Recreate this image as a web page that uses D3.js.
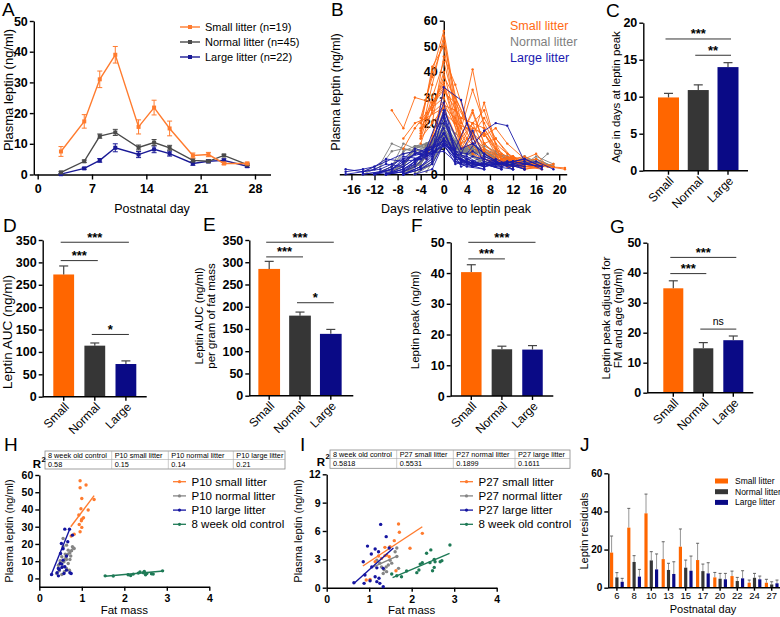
<!DOCTYPE html>
<html><head><meta charset="utf-8">
<script src="https://cdn.jsdelivr.net/npm/d3@7"></script>
<style>body{margin:0;background:#fff}svg{display:block}</style>
</head><body><svg id="c" width="780" height="617"></svg>
<script>
// ---------------- DATA ----------------
const days = [3,6,8,10,13,15,17,20,22,24,27];
const aLegend = ["Small litter (n=19)","Normal litter (n=45)","Large litter (n=22)"];
const aSmall = [7.5,17.3,31,39,15.5,21.8,15,6.2,6.5,3.6,3.6];
const aSmallErr = [1.6,2.2,2.7,2.7,2.3,2.4,2.4,0.8,0.7,0.4,0.4];
const aNormal = [0.7,4.3,12.5,13.7,8.8,10.4,8.7,4.6,4.3,6.2,3.2];
const aNormalErr = [0.3,0.4,0.7,1.0,0.8,1.0,0.8,0.5,0.4,0.4,0.3];
const aLarge = [0.1,2.0,4.6,8.7,6.5,8.2,6.8,3.6,4.3,4.6,2.7];
const aLargeErr = [0.2,0.3,0.6,1.3,1.0,1.1,0.8,0.6,0.5,0.5,0.4];

// Panel B: individual animals (peak postnatal day + leptin at each sampling day)
const bLegend = ["Small litter","Normal litter","Large litter"];
const bSmallPeak = [10,10,10,10,8,10,10,8,10,13,10,6,10,15,10,8,10,13,6];
const bSmallVals = [
[null,20,40,56,15,25,12,5,6,3,3],[null,15,35,54,12,20,10,6,7,3,4],[null,22,38,52,20,41,18,7,6,4,3],
[null,18,42,50,10,18,16,4,5,2,3],[null,20,46,35,14,28,12,6,7,3,4],[null,16,30,44,18,33,20,8,6,3,3],
[null,12,25,40,12,15,10,5,7,3,2],[null,25,38,30,16,22,14,6,6,4,3],[null,14,28,35,10,12,16,6,5,3,4],
[null,10,18,24,34,30,20,8,6,3,3],[null,18,27,33,22,20,25,5,5,3,4],[6,32,28,20,15,18,12,6,8,3,2],
[null,20,26,30,15,24,12,6,7,4,3],[null,25,18,30,28,36,20,8,6,4,3],[null,17,24,28,14,20,18,6,6,3,4],
[null,15,27,25,12,16,10,5,6,3,3],[null,14,20,26,10,14,9,4,6,2,3],[null,14,20,22,26,22,14,6,5,3,4],
[9,24,20,18,12,14,8,5,6,3,2.5]];
const bNormalPeak = [10,10,8,13,10,15,10,8,10,13,17,10,10,6,8,15,10,13,10,10,8,13,10,15,10,8,10,13,10,17];
const bNormalVals = [
[1,5,13,25,9,10,9,5,4,6,3],[0,4,12,22,8,11,9,4,4,5,4],[1,6,20,16,9,12,8,5,4,6,3],[1,3,10,12,18,10,9,5,4,7,3],
[1,4,14,20,10,12,9,5,3,6,4],[0,3,12,10,12,17,9,4,4,6,3],[1,5,12,18,8,9,8,4,5,5,3],[0,4,15,12,7,10,8,5,4,6,3],
[1,4,11,16,9,10,7,5,4,7,4],[0,3,9,11,15,9,8,4,3,5,3],[1,4,12,10,9,11,14,5,4,6,3],[0,5,13,15,8,9,8,5,4,6,4],
[1,4,12,14,9,11,9,4,3,5,3],[1,12,11,10,7,8,7,4,4,8,null],[0,4,13,12,8,9,8,5,4,5,3],[0,3,9,11,10,14,9,4,4,6,3],
[1,5,12,18,9,10,9,5,4,6,4],[0,4,10,12,16,11,8,5,4,6,3],[1,4,13,17,8,12,8,4,4,5,3],[0,5,11,13,9,10,8,5,5,6,3],
[1,5,14,13,8,11,9,5,4,7,4],[0,3,11,12,13,10,9,4,3,6,3],[1,4,12,15,10,11,8,5,4,6,3],[0,3,8,9,11,13,8,5,4,5,3],
[1,4,10,14,7,9,8,4,4,6,3],[0,5,12,11,8,9,7,5,4,5,3],[1,4,13,16,9,11,9,5,4,6,4],[0,4,11,12,14,10,9,4,4,5,3],
[1,5,12,19,9,10,8,5,4,7,3],[0,3,9,10,8,10,12,5,4,6,3]];
const bLargePeak = [10,13,13,15,20,10,13,17,10,15,13,8,20,15,17,13,10,13,15,17,10,20];
const bLargeVals = [
[0,3,8,34,29,12,8,4,5,4,3],[0,1,4,10,28,8,6,3,4,5,2],[0,2,5,8,24,10,20,4,6,4,3],[0,1,3,6,10,22,8,3,4,5,2],
[2,1,3,5,8,9,6,18,5,4,2],[0,2,5,20,8,17,7,4,5,6,3],[0,2,4,9,16,8,7,3,4,5,3],[0,1,2,5,6,8,14,3,5,4,2],
[0,3,6,14,6,9,6,3,4,5,2],[0,2,4,8,7,16,7,3,5,4,3],[0,1,5,10,13,7,5,4,4,4,2],[0,2,12,9,5,7,5,3,4,5,2],
[1,2,3,6,5,8,10,12,4,5,3],[0,2,6,10,8,12,7,3,4,3,2],[0,1,3,7,6,9,11,4,3,4,2],[0,2,5,9,23,9,8,17,20,19,5],
[0,2,4,12,5,7,6,4,5,4,3],[0,1,3,7,11,6,5,3,4,4,2],[0,2,5,8,10,13,7,4,3,5,2],[1,2,4,6,8,10,16,5,4,4,3],
[0,3,7,25,10,12,8,4,5,6,3],[0,1,2,4,3,6,8,9,5,3,2]];

// Bar panels C-G
const groups = ["Small","Normal","Large"];
const cMean = [9.9,10.9,14.0], cErr = [0.55,0.7,0.6];
const dMean = [273,114,73], dErr = [19,6,7];
const eMean = [285,180,139], eErr = [17,8,10];
const fMean = [40.3,15.2,15.1], fErr = [2.4,1.0,1.3];
const gMean = [34.8,14.8,17.5], gErr = [2.5,1.9,1.4];
const cSig = [[0,2,17.8,"***"],[1,2,15.6,"**"]];
const dSig = [[0,2,345,"***"],[0,1,304,"***"],[1,2,139,"*"]];
const eSig = [[0,2,345,"***"],[0,1,312,"***"],[1,2,209,"*"]];
const fSig = [[0,2,50,"***"],[0,1,44.6,"***"]];
const gSig = [[0,2,45.1,"***"],[0,1,39.7,"***"],[1,2,21.2,"ns"]];

// Panel H (P10) scatter
const hLegend = ["P10 small litter","P10 normal litter","P10 large litter","8 week old control"];
const hTableHead = ["8 week old control","P10 small litter","P10 normal litter","P10 large litter"];
const hTableVal = ["0.58","0.15","0.14","0.21"];
const hSmall = [[0.96,56.7],[1.10,54.2],[0.96,52.6],[1.0,46.4],[1.29,45.8],[0.98,40.4],[1.15,39.7],[0.93,36.8],[1.04,35.2],[1.0,34.4],[0.99,33.5],[0.94,31.3],[1.0,29.6],[0.96,27.1],[0.75,24.6],[0.82,25.7]];
const hNormal = [[0.56,23.2],[0.64,19.3],[0.78,18.4],[0.68,16.4],[0.72,14.9],[0.61,14.1],[0.53,12.6],[0.76,16.1],[0.64,11],[0.72,11],[0.49,10.3],[0.58,9.7],[0.68,8.7],[0.45,7.7],[0.55,6.8],[0.64,5.8],[0.47,4.4],[0.59,3.9],[0.71,4.8],[0.41,2.9],[0.53,2.3],[0.63,12.6],[0.74,13],[0.82,17.4],[0.56,18.4],[0.67,14.1]];
const hLarge = [[0.29,2.3],[0.42,3.3],[0.45,1.5],[0.49,8.7],[0.5,14.5],[0.52,20.3],[0.56,17.2],[0.6,28.6],[0.71,28.6],[0.67,21.3],[0.78,25.1],[0.56,10.6],[0.53,6.4],[0.47,5.2],[0.58,2.9],[0.64,4.8],[0.72,3.3],[0.75,2.9],[0.6,6.8],[0.53,8.3],[0.45,5.8],[0.64,13]];
const hCtrl = [[1.55,1.5],[1.74,1.4],[2.09,2.1],[2.15,1.7],[2.21,2.5],[2.33,3.1],[2.37,3.7],[2.45,3.3],[2.47,4.1],[2.5,2.1],[2.53,2.9],[2.64,2.7],[2.68,2.5],[2.9,4.4]];
const hFitSmall = [[0.74,30],[1.29,48]], hFitNormal = [[0.42,6],[0.82,18.5]], hFitLarge = [[0.27,1.5],[0.72,28.8]], hFitCtrl = [[1.55,1.3],[2.92,4.3]];

// Panel I (P27) scatter
const iLegend = ["P27 small litter","P27 normal litter","P27 large litter","8 week old control"];
const iTableHead = ["8 week old control","P27 small litter","P27 normal litter","P27 large litter"];
const iTableVal = ["0.5818","0.5531","0.1899","0.1611"];
const iSmall = [[1.69,6.74],[1.71,5.86],[2.25,5.75],[1.59,4.98],[1.96,4.17],[1.37,4.27],[1.49,4.34],[1.41,3.46],[1.37,3.39],[1.22,3.35],[1.14,2.75],[1.63,1.8],[1.02,0.88],[0.93,0.81],[1.29,3.1],[1.47,3.28]];
const iNormal = [[1.65,4.2],[1.61,3.8],[1.65,3.3],[1.45,2.4],[1.4,2.2],[1.33,1.5],[1.35,1.9],[1.41,1.7],[1.69,2.05],[1.18,2.9],[1.25,2.6],[1.53,2.6],[1.49,2.9],[1.29,2.2]];
const iLarge = [[1.27,6.7],[1.4,5.4],[0.96,4.4],[1.14,4.1],[1.47,4.2],[1.05,3.56],[1.22,3.8],[0.86,2.75],[1.06,2.2],[1.18,2.1],[1.33,2.05],[0.9,1.34],[1.14,1.16],[0.64,0.53],[0.88,0.46],[1.18,0.64],[1.25,0.46],[1.02,0.74],[1.33,0.1],[1.23,1.0]];
const iCtrl = [[1.53,1.45],[1.65,1.27],[1.76,1.16],[1.88,1.76],[2.12,1.59],[2.17,1.87],[2.2,2.5],[2.25,2.65],[2.35,3.64],[2.43,2.65],[2.45,4.0],[2.49,1.8],[2.53,2.15],[2.55,2.75],[2.67,2.75],[2.71,2.86],[2.9,4.52],[2.53,3.0]];
const iFitSmall = [[0.85,2.3],[2.25,6.45]], iFitNormal = [[1.1,2.2],[1.68,3.4]], iFitLarge = [[0.64,0.45],[1.57,4.2]], iFitCtrl = [[1.55,1.06],[2.89,3.64]];

// Panel J residuals
const jDays = ["6","8","10","13","15","17","20","22","24","27"];
const jLegend = ["Small litter","Normal litter","Large litter"];
const jSmall = [18.4,31.5,39,15,21.5,14.5,5.4,6.1,2.6,2.6];
const jSmallErr = [8.7,10.1,10.1,9.1,9.3,8.8,2.6,2.6,1.4,1.8];
const jNormal = [5.4,13.5,14.3,9.3,10.5,8.7,4.7,3.5,5.2,1.7];
const jNormalErr = [2.5,3.3,4.6,3.5,4.0,3.7,2.8,1.9,2.3,1.4];
const jLarge = [3.1,5.8,9.6,7.2,8.9,7.5,4.4,4.9,4.4,2.3];
const jLargeErr = [1.8,3.8,8.1,6.4,7.7,5.6,3.1,4.0,1.7,1.7];

// ---------------- HELPERS ----------------
const svg = d3.select("#c");
const F = "'Liberation Sans', Arial, Helvetica, sans-serif";
const OR = "#ff6a13", OR_BAR = "#ff6600", GR_BAR = "#363636", NV_BAR = "#0a0a86";
const OR_L = "#ff7b2e", GR_L = "#808080", BL_L = "#1a1aa0", GN = "#1e7a56";

function txt(x, y, s, o = {}) {
  const t = svg.append("text").attr("x", x).attr("y", y).text(s)
    .attr("font-family", F).attr("font-size", o.fs || 12).attr("fill", o.fill || "#000")
    .attr("font-weight", o.fw || "normal").attr("text-anchor", o.anchor || "start");
  if (o.rot) t.attr("transform", `rotate(${o.rot},${x},${y})`);
  return t;
}
function vtxt(x, y, s, fs) { return txt(x, y, s, {fs, anchor: "middle", rot: -90}); }
function styleAx(g, fs, bold) {
  g.select(".domain").attr("stroke", "#000").attr("stroke-width", 1.4);
  g.selectAll(".tick line").attr("stroke", "#000").attr("stroke-width", 1.4);
  g.selectAll(".tick text").attr("font-family", F).attr("font-size", fs)
    .attr("font-weight", bold ? "bold" : "normal").attr("fill", "#000");
}
function yAxis(scale, x, ticks, fs, o = {}) {
  const g = svg.append("g").attr("transform", `translate(${x},0)`)
    .call(d3.axisLeft(scale).tickValues(ticks).tickSize(o.ts || 4).tickPadding(o.tp || 2)
      .tickSizeOuter(0).tickFormat(d => String(d)));
  styleAx(g, fs, o.bold !== false);
  return g;
}
function xAxis(scale, y, ticks, fs, o = {}) {
  const ax = d3.axisBottom(scale).tickSize(o.ts || 4).tickPadding(o.tp || 3).tickSizeOuter(0)
    .tickFormat(o.fmt || (d => String(d)));
  if (ticks) ax.tickValues(ticks);
  const g = svg.append("g").attr("transform", `translate(0,${y})`).call(ax);
  styleAx(g, fs, o.bold !== false);
  return g;
}
function title(x, y, s) { txt(x, y, s, {fs: 19}); }
const lineGen = (x, y) => d3.line().x(d => x(d[0])).y(d => y(d[1]));

// ---------------- PANEL A ----------------
{
  const x = d3.scaleLinear([-0.5, 30], [33.8, 270.5]);
  const y = d3.scaleLinear([0, 50], [174.5, 21]);
  xAxis(x, 174.5, [0, 7, 14, 21, 28], 12.5, {ts: 5, tp: 5});
  yAxis(y, 33.8, d3.range(0, 51, 10), 12.5);
  const series = [[aLarge, aLargeErr, "#1a1a96"], [aNormal, aNormalErr, "#4a4a4a"], [aSmall, aSmallErr, OR_L]];
  series.forEach(([m, e, c]) => {
    const pts = days.map((d, i) => [d, m[i], e[i]]);
    svg.append("path").datum(pts).attr("d", lineGen(x, y)).attr("fill", "none").attr("stroke", c).attr("stroke-width", 1.4);
    const g = svg.append("g").attr("stroke", c).attr("stroke-width", 1);
    pts.forEach(p => {
      g.append("line").attr("x1", x(p[0])).attr("x2", x(p[0])).attr("y1", y(p[1] - p[2])).attr("y2", y(p[1] + p[2]));
      [p[1] - p[2], p[1] + p[2]].forEach(v => g.append("line").attr("x1", x(p[0]) - 2.5).attr("x2", x(p[0]) + 2.5).attr("y1", y(v)).attr("y2", y(v)));
    });
    svg.append("g").selectAll("rect").data(pts).join("rect")
      .attr("x", p => x(p[0]) - 2).attr("y", p => y(p[1]) - 2).attr("width", 4).attr("height", 4).attr("fill", c);
  });
  const lc = [OR_L, "#4a4a4a", "#1a1a96"];
  aLegend.forEach((s, i) => {
    const yy = 27 + i * 15;
    svg.append("line").attr("x1", 180).attr("x2", 200).attr("y1", yy).attr("y2", yy).attr("stroke", lc[i]).attr("stroke-width", 1.4);
    svg.append("rect").attr("x", 188).attr("y", yy - 2).attr("width", 4).attr("height", 4).attr("fill", lc[i]);
    txt(205, yy + 4, s, {fs: 11});
  });
  vtxt(13, 90, "Plasma leptin (ng/ml)", 13);
  txt(152, 213, "Postnatal day", {fs: 12.5, anchor: "middle"});
  title(2, 16, "A");
}

// ---------------- PANEL B ----------------
{
  const x = d3.scaleLinear([-18.1, 21.3], [339.3, 566.7]);
  const y = d3.scaleLinear([0, 60], [174.3, 20.7]);
  xAxis(x, 174.3, d3.range(-16, 21, 4), 12.5, {ts: 6, tp: 5});
  yAxis(y, x(0), d3.range(0, 61, 10), 12.5);
  const groupsB = [[bNormalPeak, bNormalVals, GR_L], [bSmallPeak, bSmallVals, OR], [bLargePeak, bLargeVals, "#1c1ca8"]];
  groupsB.forEach(([pk, vals, c]) => {
    vals.forEach((v, k) => {
      const pts = days.map((d, i) => [d - pk[k], v[i]]).filter(p => p[1] != null);
      svg.append("path").datum(pts).attr("d", lineGen(x, y)).attr("fill", "none").attr("stroke", c).attr("stroke-width", 0.9);
      svg.append("g").selectAll("circle").data(pts).join("circle")
        .attr("cx", p => x(p[0])).attr("cy", p => y(p[1])).attr("r", 1.2).attr("fill", c);
    });
  });
  const cols = [OR, "#7f7f7f", "#1a1ab0"];
  bLegend.forEach((s, i) => txt(510, 30 + i * 16, s, {fs: 12.5, fill: cols[i]}));
  vtxt(340, 92, "Plasma leptin (ng/ml)", 12.5);
  txt(456, 213, "Days relative to leptin peak", {fs: 12.5, anchor: "middle"});
  title(331, 16, "B");
}

// ---------------- BAR PANELS C-G ----------------
function barPanel(p) {
  const y = d3.scaleLinear([0, p.max], [p.y0, p.y1]);
  const pi = 1 - p.w / p.s;
  const x = d3.scaleBand(groups, [p.c1 - p.s / 2, p.c1 + 2.5 * p.s]).paddingInner(pi).paddingOuter(pi / 2);
  const cols = [OR_BAR, GR_BAR, NV_BAR];
  svg.append("g").selectAll("rect").data(groups).join("rect")
    .attr("x", d => x(d)).attr("width", x.bandwidth())
    .attr("y", (d, i) => y(p.mean[i])).attr("height", (d, i) => p.y0 - y(p.mean[i]))
    .attr("fill", (d, i) => cols[i]);
  const eg = svg.append("g").attr("stroke", "#444").attr("stroke-width", 1.2);
  groups.forEach((g, i) => {
    const cx = x(g) + x.bandwidth() / 2;
    eg.append("line").attr("x1", cx).attr("x2", cx).attr("y1", y(p.mean[i])).attr("y2", y(p.mean[i] + p.err[i]));
    eg.append("line").attr("x1", cx - 4.5).attr("x2", cx + 4.5).attr("y1", y(p.mean[i] + p.err[i])).attr("y2", y(p.mean[i] + p.err[i]));
  });
  yAxis(y, p.ax, d3.range(0, p.max + 0.001, p.step), 12.5);
  const xa = svg.append("g").attr("transform", `translate(0,${p.y0})`)
    .call(d3.axisBottom(x).tickSize(4).tickSizeOuter(0).tickFormat(""));
  xa.select(".domain").attr("d", `M${p.ax},0H${p.axEnd}`);
  styleAx(xa, 12, false);
  groups.forEach(g => {
    const cx = x(g) + x.bandwidth() / 2;
    txt(cx + 3, p.y0 + 8, g, {fs: 12, anchor: "end", rot: -45}).attr("dy", "0.35em");
  });
  const sg = svg.append("g");
  p.sig.forEach(([a, b, v, lab]) => {
    const x1 = x(groups[a]) + x.bandwidth() / 2 - 3, x2 = x(groups[b]) + x.bandwidth() / 2 + 3;
    sg.append("line").attr("x1", x1).attr("x2", x2).attr("y1", y(v)).attr("y2", y(v)).attr("stroke", "#333").attr("stroke-width", 1);
    if (lab === "ns") txt((x1 + x2) / 2, y(v) - 4, lab, {fs: 10.5, anchor: "middle"});
    else txt((x1 + x2) / 2, y(v) - 0.5, lab, {fs: 13, anchor: "middle", fw: "bold"});
  });
  p.label.forEach((s, i) => vtxt(p.lx[i], p.ly, s, p.lfs));
  title(p.tx, p.ty, p.title);
}
barPanel({ax: 643.3, axEnd: 748, y0: 170.7, y1: 22.7, max: 20, step: 5, c1: 668.5, s: 29.75, w: 21,
  mean: cMean, err: cErr, sig: cSig, label: ["Age in days at leptin peak"], lx: [620], ly: 97, lfs: 11.5, title: "C", tx: 606, ty: 17});
barPanel({ax: 42.7, axEnd: 146.7, y0: 396.7, y1: 240, max: 350, step: 50, c1: 63.7, s: 31.1, w: 20.8,
  mean: dMean, err: dErr, sig: dSig, label: ["Leptin AUC (ng/ml)"], lx: [12], ly: 332, lfs: 13.5, title: "D", tx: 3, ty: 232});
barPanel({ax: 249.3, axEnd: 353.3, y0: 395.7, y1: 240, max: 350, step: 50, c1: 269.2, s: 30.8, w: 21.7,
  mean: eMean, err: eErr, sig: eSig, label: ["Leptin AUC (ng/ml)", "per gram of fat mass"], lx: [203, 215], ly: 316, lfs: 11.5, title: "E", tx: 203, ty: 231});
barPanel({ax: 450.7, axEnd: 553.3, y0: 396, y1: 242.3, max: 50, step: 10, c1: 471.3, s: 30.6, w: 20.5,
  mean: fMean, err: fErr, sig: fSig, label: ["Leptin peak (ng/ml)"], lx: [419], ly: 320, lfs: 11.5, title: "F", tx: 411, ty: 232});
barPanel({ax: 647.3, axEnd: 753.3, y0: 392.7, y1: 242.7, max: 50, step: 10, c1: 673.3, s: 30, w: 20,
  mean: gMean, err: gErr, sig: gSig, label: ["Leptin peak adjusted for", "FM and age (ng/ml)"], lx: [610, 622], ly: 318, lfs: 11.5, title: "G", tx: 610, ty: 233});

// ---------------- SCATTER PANELS H, I ----------------
function table(x0, cols, yT, yM, yB, head, vals) {
  const g = svg.append("g");
  g.append("rect").attr("x", x0).attr("y", yT).attr("width", cols[cols.length - 1] - x0).attr("height", yB - yT)
    .attr("fill", "#fff").attr("stroke", "#888").attr("stroke-width", 0.8);
  g.append("line").attr("x1", x0).attr("x2", cols[cols.length - 1]).attr("y1", yM).attr("y2", yM).attr("stroke", "#aaa").attr("stroke-width", 0.6);
  const starts = [x0].concat(cols.slice(0, -1));
  cols.slice(0, -1).forEach(c => g.append("line").attr("x1", c).attr("x2", c).attr("y1", yT).attr("y2", yB).attr("stroke", "#aaa").attr("stroke-width", 0.6));
  head.forEach((s, i) => txt(starts[i] + 3, yM - 1.8, s, {fs: 7.3}));
  vals.forEach((s, i) => txt(starts[i] + 3, yB - 2.2, s, {fs: 7.3}));
}
function scatterPanel(p) {
  const x = d3.scaleLinear([0, 4], [p.ax, p.ax + 170]);
  const y = d3.scaleLinear(p.yDom, [p.y0, p.y1]);
  xAxis(x, p.y0, [0, 1, 2, 3, 4], 10.5, {ts: 4, tp: 3.5});
  yAxis(y, p.ax, p.yTicks, 10.5);
  const sets = [[p.normal, p.fitN, "#858585"], [p.small, p.fitS, OR_L], [p.large, p.fitL, "#1515a0"], [p.ctrl, p.fitC, GN]];
  sets.forEach(([pts, fit, c]) => {
    svg.append("g").selectAll("circle").data(pts).join("circle")
      .attr("cx", d => x(d[0])).attr("cy", d => y(d[1])).attr("r", 1.7).attr("fill", c);
    svg.append("path").datum(fit).attr("d", lineGen(x, y)).attr("stroke", c).attr("stroke-width", 1.4).attr("fill", "none");
  });
  const lc = [OR_L, "#858585", "#1515a0", GN];
  p.legend.forEach((s, i) => {
    const yy = 481.7 + i * 14.2;
    svg.append("line").attr("x1", p.lgx).attr("x2", p.lgx + 13).attr("y1", yy).attr("y2", yy).attr("stroke", lc[i]).attr("stroke-width", 1.3);
    svg.append("circle").attr("cx", p.lgx + 6.5).attr("cy", yy).attr("r", 1.6).attr("fill", lc[i]);
    txt(p.lgx + 18.5, yy + 4, s, {fs: 11.5});
  });
  table(p.tx0, p.tcols, p.tyT, p.tyM, p.tyB, p.head, p.vals);
  txt(p.rx, p.ry, "R", {fs: 11.5, fw: "bold", anchor: "end"});
  txt(p.rx + 0.5, p.ry - 6.5, "2", {fs: 7.5, fw: "bold"});
  vtxt(p.lx, 531, "Plasma leptin (ng/ml)", 11);
  txt(p.ax + 85, 614, "Fat mass", {fs: 11.5, anchor: "middle"});
  title(p.ttx, 451, p.title);
}
scatterPanel({ax: 39.3, y0: 586.7, y1: 475, yDom: [-4.8, 60], yTicks: d3.range(0, 61, 10),
  small: hSmall, normal: hNormal, large: hLarge, ctrl: hCtrl, fitS: hFitSmall, fitN: hFitNormal, fitL: hFitLarge, fitC: hFitCtrl,
  legend: hLegend, lgx: 173, tx0: 45, tcols: [111.7, 168.3, 233.3, 285], tyT: 451, tyM: 459.5, tyB: 469,
  head: hTableHead, vals: hTableVal, rx: 41, ry: 468, lx: 13, title: "H", ttx: 4});
scatterPanel({ax: 326.7, y0: 587.7, y1: 474.3, yDom: [0, 12], yTicks: [0, 3, 6, 9, 12],
  small: iSmall, normal: iNormal, large: iLarge, ctrl: iCtrl, fitS: iFitSmall, fitN: iFitNormal, fitL: iFitLarge, fitC: iFitCtrl,
  legend: iLegend, lgx: 460, tx0: 330, tcols: [396.7, 453.3, 515, 570], tyT: 450, tyM: 458.5, tyB: 468.3,
  head: iTableHead, vals: iTableVal, rx: 325, ry: 465.5, lx: 302, title: "I", ttx: 300});

// ---------------- PANEL J ----------------
{
  const x = d3.scaleBand(jDays, [608.3, 780.3]).paddingInner(0.2).paddingOuter(0.1);
  const sub = d3.scaleBand([0, 1, 2], [0, x.bandwidth()]).paddingInner(0.4);
  const y = d3.scaleLinear([0, 60], [587.7, 473.3]);
  const ser = [[jSmall, jSmallErr, OR_BAR], [jNormal, jNormalErr, GR_BAR], [jLarge, jLargeErr, NV_BAR]];
  ser.forEach(([m, e, c], k) => {
    const g = svg.append("g");
    jDays.forEach((d, i) => {
      const cx = x(d) + sub(k) + sub.bandwidth() / 2;
      g.append("line").attr("x1", cx).attr("x2", cx).attr("y1", y(m[i])).attr("y2", y(m[i] + e[i])).attr("stroke", "#8a8a8a").attr("stroke-width", 0.9);
      g.append("line").attr("x1", cx - 1.5).attr("x2", cx + 1.5).attr("y1", y(m[i] + e[i])).attr("y2", y(m[i] + e[i])).attr("stroke", "#555").attr("stroke-width", 0.9);
      g.append("rect").attr("x", x(d) + sub(k)).attr("width", sub.bandwidth()).attr("y", y(m[i])).attr("height", 587.7 - y(m[i])).attr("fill", c);
    });
  });
  const xa = svg.append("g").attr("transform", "translate(0,587.7)")
    .call(d3.axisBottom(x).tickSize(3).tickPadding(2).tickSizeOuter(0));
  xa.select(".domain").attr("d", "M608.3,0H780");
  styleAx(xa, 9.5, false);
  yAxis(y, 608.3, [0, 20, 40, 60], 10);
  const lc = [OR_BAR, GR_BAR, NV_BAR];
  jLegend.forEach((s, i) => {
    const yy = 481 + i * 10.7;
    svg.append("rect").attr("x", 715).attr("y", yy - 2.5).attr("width", 13).attr("height", 5).attr("fill", lc[i]);
    txt(735, yy + 3, s, {fs: 8.5});
  });
  vtxt(588, 531, "Leptin residuals", 11);
  txt(703, 613, "Postnatal day", {fs: 11, anchor: "middle"});
  title(580, 451, "J");
}
</script></body></html>
